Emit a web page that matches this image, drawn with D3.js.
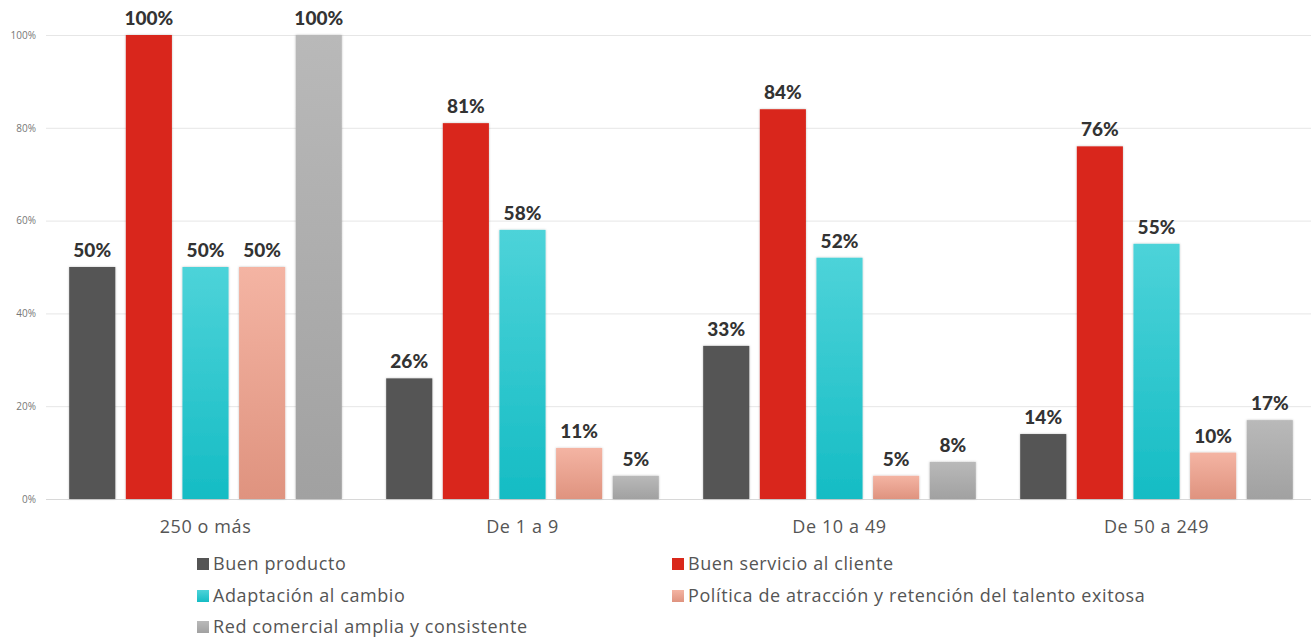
<!DOCTYPE html>
<html>
<head>
<meta charset="utf-8">
<script src="https://cdn.jsdelivr.net/npm/d3@7"></script>
<style>
  html, body { margin: 0; padding: 0; background: #fff; }
  svg { display: block; }
</style>
</head>
<body>
<svg id="chart" width="1311" height="638"></svg>
<script>
// Company size groups
const categories = ["250 o más", "De 1 a 9", "De 10 a 49", "De 50 a 249"];

// Success factors (series)
const seriesNames = [
  "Buen producto",
  "Buen servicio al cliente",
  "Adaptación al cambio",
  "Política de atracción y retención del talento exitosa",
  "Red comercial amplia y consistente"
];

// Percentages per series, one value per company size group
const buenProducto    = [50, 26, 33, 14];
const buenServicio    = [100, 81, 84, 76];
const adaptacion      = [50, 58, 52, 55];
const politicaTalento = [50, 11, 5, 10];
const redComercial    = [100, 5, 8, 17];

const yTicks = [0, 20, 40, 60, 80, 100];

const seriesValues = [buenProducto, buenServicio, adaptacion, politicaTalento, redComercial];

// Fill gradients per series: [top, bottom]
const seriesColors = [
  ["#545454", "#545454"],
  ["#d9271b", "#d9271b"],
  ["#4dd3d9", "#15bcc4"],
  ["#f4b4a3", "#df937f"],
  ["#b9b9b9", "#a1a1a1"]
];

const svg = d3.select("#chart");
const W = 1311, H = 638;
const margin = { left: 46, right: 0, top: 35, bottom: 139 };

const x0 = d3.scaleBand()
  .domain(categories)
  .range([47, 1315])
  .paddingInner(0.14)
  .paddingOuter(0.07);

const x1 = d3.scaleBand()
  .domain(d3.range(seriesNames.length))
  .range([0, x0.bandwidth()])
  .paddingInner(0.186)
  .paddingOuter(0);

const y = d3.scaleLinear()
  .domain([0, 100])
  .range([H - margin.bottom, margin.top]);

const defs = svg.append("defs");
seriesColors.forEach((c, i) => {
  const g = defs.append("linearGradient")
    .attr("id", "grad" + i)
    .attr("x1", 0).attr("y1", 0).attr("x2", 0).attr("y2", 1);
  g.append("stop").attr("offset", "0%").attr("stop-color", c[0]);
  g.append("stop").attr("offset", "100%").attr("stop-color", c[1]);
});
const shadow = defs.append("filter").attr("id", "shadow")
  .attr("x", "-10%").attr("y", "-10%").attr("width", "120%").attr("height", "120%");
shadow.append("feDropShadow")
  .attr("dx", 0).attr("dy", 0).attr("stdDeviation", 1)
  .attr("flood-color", "#000").attr("flood-opacity", 0.25);

// Grid lines and y axis labels
const yAxis = d3.axisLeft(y)
  .tickValues(yTicks)
  .tickSize(-(W - margin.left - margin.right))
  .tickPadding(10)
  .tickFormat(d => d + "%");

const yG = svg.append("g")
  .attr("transform", `translate(${margin.left},0)`)
  .call(yAxis);
yG.select(".domain").remove();
yG.selectAll(".tick line").attr("stroke", "#e6e6e6").attr("stroke-width", 1);
yG.selectAll(".tick text")
  .attr("fill", "#777")
  .style("font-family", "'Open Sans', sans-serif")
  .style("font-size", "10px");

// Baseline
svg.append("line")
  .attr("x1", margin.left).attr("x2", W - margin.right)
  .attr("y1", y(0) + 0.5).attr("y2", y(0) + 0.5)
  .attr("stroke", "#d8d8d8");

// X axis labels
const xAxis = d3.axisBottom(x0).tickSize(0).tickPadding(21);
const xG = svg.append("g")
  .attr("transform", `translate(0,${y(0)})`)
  .call(xAxis);
xG.select(".domain").remove();
xG.selectAll(".tick text")
  .attr("fill", "#555")
  .style("font-family", "'Open Sans', sans-serif")
  .style("font-size", "18px")
  .style("letter-spacing", "0.6px");

// Bars
const groups = svg.append("g").selectAll("g")
  .data(categories)
  .join("g")
  .attr("transform", d => `translate(${x0(d)},0)`);

groups.selectAll("rect")
  .data((d, ci) => seriesValues.map((vals, si) => ({ si, v: vals[ci] })))
  .join("rect")
  .attr("x", d => x1(d.si))
  .attr("width", x1.bandwidth())
  .attr("y", d => y(d.v))
  .attr("height", d => y(0) - y(d.v))
  .attr("fill", d => `url(#grad${d.si})`)
  .attr("filter", "url(#shadow)");

groups.selectAll("text")
  .data((d, ci) => seriesValues.map((vals, si) => ({ si, v: vals[ci] })))
  .join("text")
  .attr("x", d => x1(d.si) + x1.bandwidth() / 2)
  .attr("y", d => y(d.v) - 10)
  .attr("text-anchor", "middle")
  .attr("fill", "#333")
  .style("font-family", "Lato, sans-serif")
  .style("font-weight", 900)
  .style("font-size", "19px")
  .text(d => d.v + "%");

// Legend
const legendCols = [197, 672];
const legendRows = [564, 596, 627];
const legend = svg.append("g").selectAll("g")
  .data(seriesNames)
  .join("g")
  .attr("transform", (d, i) => `translate(${legendCols[i % 2]},${legendRows[Math.floor(i / 2)]})`);

legend.append("rect")
  .attr("x", 0).attr("y", -6)
  .attr("width", 12).attr("height", 12)
  .attr("fill", (d, i) => `url(#grad${i})`);

legend.append("text")
  .attr("x", 16).attr("y", 0)
  .attr("dy", "0.35em")
  .attr("fill", "#555")
  .style("font-family", "'Open Sans', sans-serif")
  .style("font-size", "18px")
  .style("letter-spacing", "0.6px")
  .text(d => d);
</script>
</body>
</html>
